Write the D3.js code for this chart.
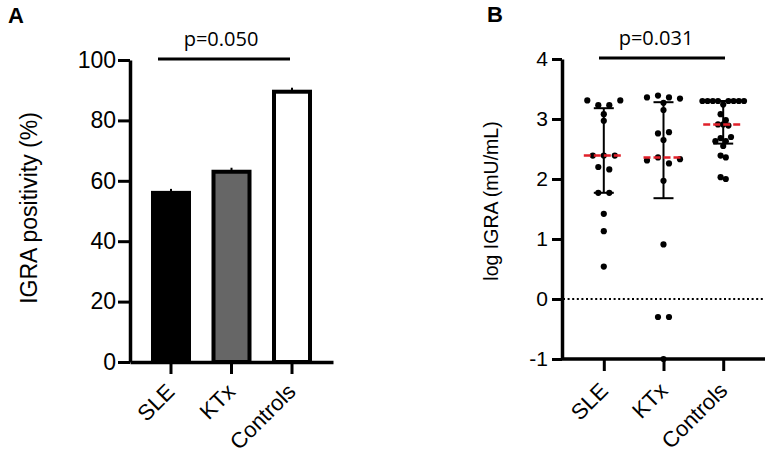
<!DOCTYPE html>
<html>
<head>
<meta charset="utf-8">
<script src="https://cdn.jsdelivr.net/npm/d3@7"></script>
<style>
    body { margin: 0; background: #fff; }
    svg { font-family: "Liberation Sans", Arial, sans-serif; }
</style>
</head>
<body>
<svg id="chart" width="768" height="456"></svg>
<script>
// data
var groups = ["SLE", "KTx", "Controls"];
var positivity = [56, 63, 89.5];
var barFills = ["#000000", "#666666", "#ffffff"];
var percentTicks = [0, 20, 40, 60, 80, 100];

var sleValues = [3.31, 3.23, 3.23, 3.31, 3.08, 2.97, 2.39, 2.39, 2.39, 2.20, 2.16, 1.77, 1.77, 1.42, 1.13, 0.54];
var ktxValues = [3.36, 3.39, 3.36, 3.34, 3.27, 3.15, 2.76, 2.78, 2.65, 2.31, 2.36, 2.26, 2.33, 1.97, 0.91, -0.30, -0.30, -1.00];
var controlValues = [3.30, 3.30, 3.30, 3.30, 3.24, 3.30, 3.30, 3.30, 3.30, 3.08, 2.91, 2.91, 2.89, 2.98,
    2.63, 2.68, 2.63, 2.70, 2.55, 2.39, 2.36, 2.03, 2.00];
var medians = [2.39, 2.36, 2.91];
var lowerQuartiles = [1.77, 1.68, 2.59];
var upperQuartiles = [3.18, 3.28, 3.30];
var logTicks = [-1, 0, 1, 2, 3, 4];
var pLabels = ["p=0.050", "p=0.031"];

var svg = d3.select("svg#chart");

function StyleAxis(g, fontSize) {
    g.select(".domain").attr("stroke-width", 3.5).attr("stroke", "#000");
    g.selectAll(".tick line").attr("stroke-width", 3).attr("stroke", "#000");
    g.selectAll(".tick text").attr("fill", "#000").attr("font-size", fontSize)
        .attr("font-family", "'Liberation Sans', Arial, sans-serif");
}

function RotateLabels(g, dx, dy) {
    g.selectAll(".tick text")
        .attr("x", 0).attr("y", 0).attr("dy", 0)
        .attr("text-anchor", "end")
        .attr("transform", "translate(" + dx + "," + dy + ") rotate(-45)");
}

function DrawBarChart() {
    var x = d3.scaleBand().domain(groups).range([130, 333]).paddingInner(0.405).paddingOuter(0.38);
    var y = d3.scaleLinear().domain([0, 100]).range([362, 60]);

    svg.append("g")
        .selectAll("rect")
        .data(positivity)
        .enter()
        .append("rect")
        .attr("x", function (d, i) { return x(groups[i]); })
        .attr("y", function (d) { return y(d); })
        .attr("width", x.bandwidth())
        .attr("height", function (d) { return y(0) - y(d); })
        .attr("fill", function (d, i) { return barFills[i]; })
        .attr("stroke", "#000")
        .attr("stroke-width", 4);

    // zero-width error bars sitting on each bar
    svg.append("g")
        .selectAll("line")
        .data(positivity)
        .enter()
        .append("line")
        .attr("x1", function (d, i) { return x(groups[i]) + x.bandwidth() / 2; })
        .attr("x2", function (d, i) { return x(groups[i]) + x.bandwidth() / 2; })
        .attr("y1", function (d) { return y(d) - 1; })
        .attr("y2", function (d) { return y(d) - 4; })
        .attr("stroke", "#000").attr("stroke-width", 2);

    var yAxis = svg.append("g")
        .attr("transform", "translate(130,0)")
        .call(d3.axisLeft(y).tickValues(percentTicks).tickSize(12).tickSizeOuter(0).tickPadding(2));
    StyleAxis(yAxis, 23);

    var xAxis = svg.append("g")
        .attr("transform", "translate(0,362)")
        .call(d3.axisBottom(x).tickSize(12).tickSizeOuter(0));
    StyleAxis(xAxis, 22);
    RotateLabels(xAxis, 5, 31);

    svg.append("text")
        .attr("transform", "translate(37,208) rotate(-90)")
        .attr("text-anchor", "middle")
        .attr("font-size", 23)
        .text("IGRA positivity (%)");

    // significance bar
    svg.append("line")
        .attr("x1", 158).attr("x2", 290).attr("y1", 59).attr("y2", 59)
        .attr("stroke", "#000").attr("stroke-width", 3);
    svg.append("text")
        .attr("x", 221).attr("y", 46)
        .attr("text-anchor", "middle")
        .attr("font-family", "'Open Sans', sans-serif")
        .attr("font-size", 20)
        .text(pLabels[0]);

    svg.append("text")
        .attr("x", 8).attr("y", 23)
        .attr("font-weight", "bold")
        .attr("font-size", 22)
        .text("A");
}

// rows of points with close values are spread side by side
function SwarmOffsets(values, y, gap) {
    var order = d3.range(values.length).sort(function (a, b) { return values[b] - values[a]; });
    var rows = [];
    var current = null;
    order.forEach(function (i) {
        var py = y(values[i]);
        if (!current || py - current.top > 6.5) {
            current = { top: py, members: [] };
            rows.push(current);
        }
        current.members.push(i);
    });
    var offsets = [];
    rows.forEach(function (row) {
        row.members.sort(function (a, b) { return a - b; });
        var n = row.members.length;
        row.members.forEach(function (idx, k) {
            offsets[idx] = (k - (n - 1) / 2) * gap;
        });
    });
    return offsets;
}

function DrawScatter() {
    var x = d3.scalePoint().domain(groups).range([562, 765]).padding(0.7);
    var y = d3.scaleLinear().domain([-1, 4]).range([359, 59]);
    var series = [sleValues, ktxValues, controlValues];
    var gaps = [11, 11, 5.2];

    // zero reference line
    svg.append("line")
        .attr("x1", 563).attr("x2", 765)
        .attr("y1", y(0)).attr("y2", y(0))
        .attr("stroke", "#000").attr("stroke-width", 2)
        .attr("stroke-dasharray", "2,2.6");

    // whiskers (interquartile range)
    var whiskers = svg.append("g").selectAll("g").data(groups).enter().append("g");
    whiskers.append("line")
        .attr("x1", function (d) { return x(d); })
        .attr("x2", function (d) { return x(d); })
        .attr("y1", function (d, i) { return y(upperQuartiles[i]); })
        .attr("y2", function (d, i) { return y(lowerQuartiles[i]); })
        .attr("stroke", "#000").attr("stroke-width", 2);
    [upperQuartiles, lowerQuartiles].forEach(function (q) {
        whiskers.append("line")
            .attr("x1", function (d) { return x(d) - 10; })
            .attr("x2", function (d) { return x(d) + 10; })
            .attr("y1", function (d, i) { return y(q[i]); })
            .attr("y2", function (d, i) { return y(q[i]); })
            .attr("stroke", "#000").attr("stroke-width", 2);
    });

    series.forEach(function (values, gi) {
        var offsets = SwarmOffsets(values, y, gaps[gi]);
        svg.append("g")
            .selectAll("circle")
            .data(values)
            .enter()
            .append("circle")
            .attr("cx", function (d, i) { return x(groups[gi]) + offsets[i]; })
            .attr("cy", function (d) { return y(d); })
            .attr("r", 3.1)
            .attr("fill", "#000");
    });

    // medians
    svg.append("g")
        .selectAll("line")
        .data(medians)
        .enter()
        .append("line")
        .attr("x1", function (d, i) { return x(groups[i]) - 20; })
        .attr("x2", function (d, i) { return x(groups[i]) + 20; })
        .attr("y1", function (d) { return y(d); })
        .attr("y2", function (d) { return y(d); })
        .attr("stroke", "#e0202a").attr("stroke-width", 2.5)
        .attr("stroke-dasharray", "7,3");

    var yAxis = svg.append("g")
        .attr("transform", "translate(562,0)")
        .call(d3.axisLeft(y).tickValues(logTicks)
            .tickFormat(function (d) { return String(d); })
            .tickSize(10).tickSizeOuter(0).tickPadding(4));
    StyleAxis(yAxis, 21);

    var xAxis = svg.append("g")
        .attr("transform", "translate(0,359)")
        .call(d3.axisBottom(x).tickSize(12).tickSizeOuter(0));
    xAxis.select(".domain").attr("d", "M562,0H765");
    StyleAxis(xAxis, 22);
    RotateLabels(xAxis, 5, 33);

    svg.append("text")
        .attr("transform", "translate(498,201) rotate(-90)")
        .attr("text-anchor", "middle")
        .attr("font-size", 19.5)
        .text("log IGRA (mU/mL)");

    svg.append("line")
        .attr("x1", 599).attr("x2", 725).attr("y1", 58).attr("y2", 58)
        .attr("stroke", "#000").attr("stroke-width", 3);
    svg.append("text")
        .attr("x", 656).attr("y", 45)
        .attr("text-anchor", "middle")
        .attr("font-family", "'Open Sans', sans-serif")
        .attr("font-size", 20)
        .text(pLabels[1]);

    svg.append("text")
        .attr("x", 487).attr("y", 22)
        .attr("font-weight", "bold")
        .attr("font-size", 22)
        .text("B");
}

DrawBarChart();
DrawScatter();
</script>
</body>
</html>
